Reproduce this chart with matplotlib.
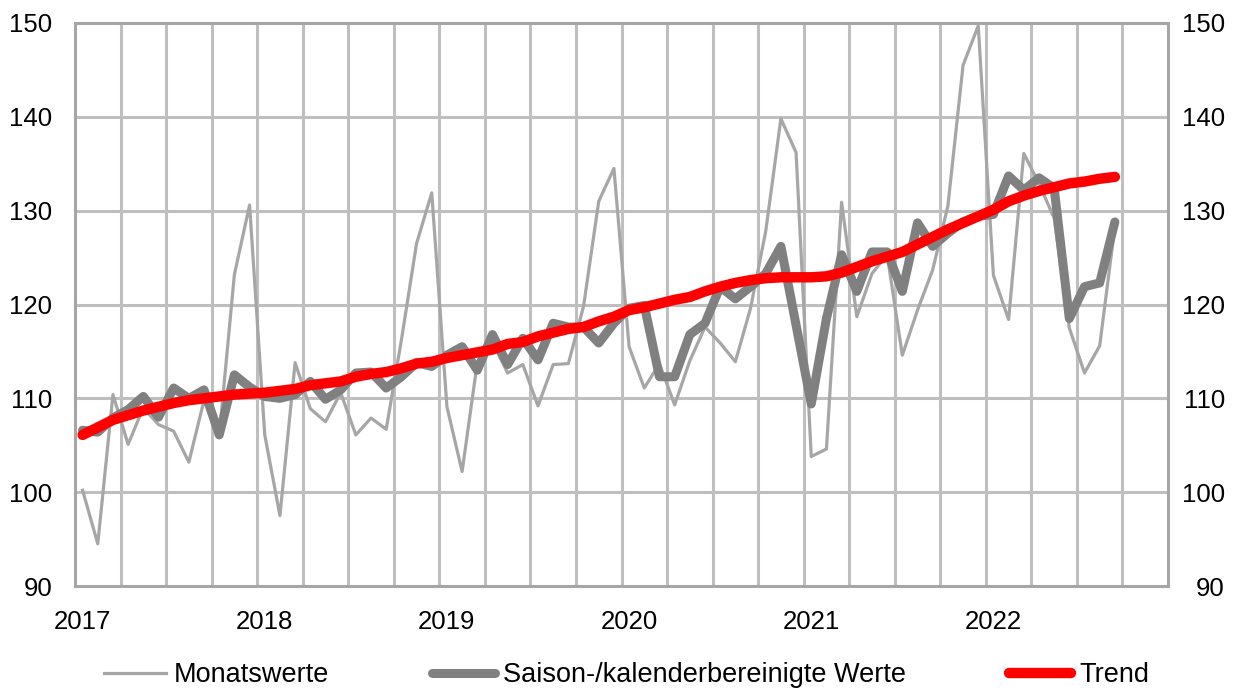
import matplotlib
matplotlib.use("Agg")
import matplotlib.pyplot as plt
import numpy as np
from matplotlib.lines import Line2D

plt.rcParams['font.family'] = ['Liberation Sans', 'DejaVu Sans']

# ---- data (Jan 2017 .. Sep 2022, monthly) ----
years = ['2017', '2018', '2019', '2020', '2021', '2022']

monatswerte = [
    100.2, 94.5, 110.4, 105.1, 109.0, 107.2, 106.5, 103.2, 109.8, 106.0, 123.2, 130.6,
    106.1, 97.5, 113.8, 108.9, 107.5, 110.6, 106.1, 107.9, 106.7, 116.2, 126.5, 131.9,
    109.1, 102.2, 113.8, 116.0, 112.7, 113.6, 109.2, 113.6, 113.7, 119.8, 131.0, 134.5,
    115.5, 111.1, 113.7, 109.3, 114.0, 117.6, 115.9, 113.9, 119.6, 127.8, 139.8, 136.2,
    103.8, 104.6, 130.9, 118.7, 123.3, 125.3, 114.6, 119.4, 123.7, 130.5, 145.5, 149.7,
    123.1, 118.4, 136.1, 132.9, 129.2, 117.5, 112.7, 115.6, 128.3,
]

saisonbereinigt = [
    106.6, 106.4, 107.9, 108.8, 110.2, 108.0, 111.1, 110.0, 110.9, 106.1, 112.5, 111.2,
    110.2, 110.0, 110.4, 111.8, 109.9, 110.9, 112.7, 112.8, 111.1, 112.3, 113.8, 113.4,
    114.6, 115.5, 113.0, 116.8, 113.6, 116.4, 114.1, 118.0, 117.6, 117.6, 115.9, 118.0,
    119.6, 119.9, 112.3, 112.3, 116.8, 118.0, 121.9, 120.6, 121.9, 123.3, 126.2, 117.8,
    109.4, 118.5, 125.3, 121.4, 125.6, 125.6, 121.4, 128.7, 126.2, 127.6, 128.8, 129.4,
    129.6, 133.7, 132.2, 133.5, 132.4, 118.5, 121.9, 122.3, 128.8,
]

trend = [
    106.1, 106.9, 107.7, 108.2, 108.7, 109.1, 109.5, 109.8, 110.0, 110.2, 110.4, 110.5,
    110.6, 110.8, 111.0, 111.4, 111.6, 111.8, 112.3, 112.6, 112.8, 113.2, 113.7, 113.9,
    114.3, 114.6, 114.9, 115.2, 115.8, 116.0, 116.6, 117.0, 117.4, 117.6, 118.2, 118.7,
    119.4, 119.7, 120.1, 120.5, 120.8, 121.4, 121.9, 122.3, 122.6, 122.8, 122.9, 122.9,
    122.9, 123.0, 123.4, 124.0, 124.6, 125.1, 125.6, 126.4, 127.2, 128.0, 128.7, 129.4,
    130.1, 131.0, 131.6, 132.1, 132.5, 132.9, 133.1, 133.4, 133.6,
]

labels = ['Monatswerte', 'Saison-/kalenderbereinigte Werte', 'Trend']

# ---- figure ----
W, H = 1251, 688
fig = plt.figure(figsize=(W / 100, H / 100), dpi=100)
left, right, top, bottom = 75, 1168, 23, 586
ax = fig.add_axes([left / W, 1 - bottom / H, (right - left) / W, (bottom - top) / H])

n_months = len(years) * 12
x = np.arange(len(monatswerte)) + 0.5

ax.set_xlim(0, n_months)
ax.set_ylim(90, 150)

grid_c = '#BFBFBF'
for g in range(3, n_months, 3):
    ax.axvline(g, color=grid_c, lw=2.2, zorder=0)
for yv in range(100, 150, 10):
    ax.axhline(yv, color=grid_c, lw=2.2, zorder=0)

for s in ax.spines.values():
    s.set_color('#A6A6A6')
    s.set_linewidth(2.2)

l1, = ax.plot(x, monatswerte, color='#A6A6A6', lw=2.3, zorder=2,
              solid_joinstyle='round')
l2, = ax.plot(x, saisonbereinigt, color='#808080', lw=6.5, zorder=3,
              solid_joinstyle='round', solid_capstyle='round')
l3, = ax.plot(x, trend, color='#FF0000', lw=7.5, zorder=4,
              solid_joinstyle='round', solid_capstyle='round')

ax.set_xticks(np.arange(len(years)) * 12 + 0.5)
ax.set_xticklabels(years)
ax.set_yticks(range(90, 151, 10))
ax.tick_params(axis='x', length=0, pad=17, labelsize=18.5, colors='black')
ax.tick_params(axis='y', length=0, pad=16.5, labelsize=18.5, colors='black')

ax2 = ax.twinx()
ax2.set_ylim(90, 150)
ax2.set_yticks(range(90, 151, 10))
ax2.tick_params(axis='y', length=0, pad=41, labelsize=18.5)
for t in ax2.get_yticklabels():
    t.set_horizontalalignment('right')
for s in ax2.spines.values():
    s.set_visible(False)

h1 = Line2D([], [], color='#A6A6A6', lw=2.3)
h2 = Line2D([], [], color='#808080', lw=6.5, solid_capstyle='round')
h3 = Line2D([], [], color='#FF0000', lw=7.5, solid_capstyle='round')
fig.legend([h1, h2, h3], labels, loc='center', bbox_to_anchor=(0.5008, 1 - 675 / H),
           ncol=3, frameon=False, fontsize=19.5, handlelength=2.3,
           handletextpad=0.3, columnspacing=3.8, borderaxespad=0, borderpad=0)

fig.savefig('out.png', dpi=100)
